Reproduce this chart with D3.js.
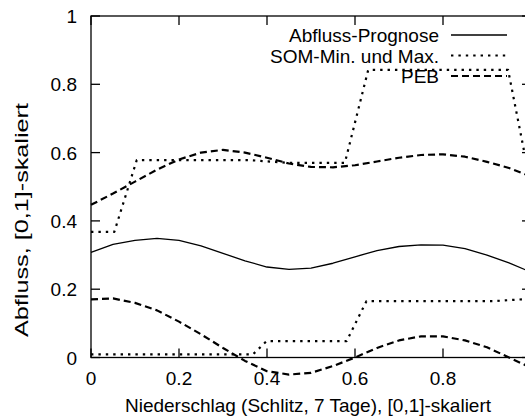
<!DOCTYPE html>
<html>
<head>
<meta charset="utf-8">
<script src="https://cdn.jsdelivr.net/npm/d3@7"></script>
<style>
  html, body { margin: 0; padding: 0; background: #fff; }
  svg { display: block; }
  text { font-family: "Liberation Sans", Arial, Helvetica, sans-serif; fill: #000; }
</style>
</head>
<body>
<svg id="chart" width="525" height="419"></svg>
<script>
// Sample positions along the precipitation axis (shared by forecast and PEB bands)
const xGrid = [0, 0.05, 0.1, 0.15, 0.2, 0.25, 0.3, 0.35, 0.4, 0.45, 0.5,
               0.55, 0.6, 0.65, 0.7, 0.75, 0.8, 0.85, 0.9, 0.95, 1.0];

// Discharge forecast
const prognose = [0.308, 0.331, 0.343, 0.349, 0.343, 0.327, 0.305, 0.283, 0.265, 0.258, 0.262,
                  0.276, 0.295, 0.313, 0.325, 0.330, 0.329, 0.319, 0.300, 0.277, 0.250];

// PEB upper and lower bound
const pebUpper = [0.447, 0.480, 0.515, 0.550, 0.580, 0.600, 0.608, 0.600, 0.585, 0.568, 0.558,
                  0.557, 0.563, 0.574, 0.585, 0.593, 0.595, 0.588, 0.573, 0.555, 0.530];
const pebLower = [0.170, 0.173, 0.160, 0.138, 0.105, 0.068, 0.028, -0.010, -0.040, -0.050, -0.045,
                  -0.025, 0.000, 0.028, 0.050, 0.062, 0.062, 0.050, 0.030, 0.000, -0.030];

// SOM maximum (step-like)
const somMaxX = [0, 0.053, 0.104, 0.36, 0.45, 0.577, 0.630, 0.948, 0.985, 1.0];
const somMaxY = [0.368, 0.368, 0.578, 0.578, 0.570, 0.570, 0.842, 0.842, 0.600, 0.580];

// SOM minimum (step-like)
const somMinX = [0, 0.368, 0.399, 0.581, 0.626, 0.914, 1.0];
const somMinY = [0.009, 0.009, 0.048, 0.048, 0.165, 0.165, 0.172];

const xTicks = [0, 0.2, 0.4, 0.6, 0.8, 1];
const yTicks = [0, 0.2, 0.4, 0.6, 0.8, 1];

const legendLabels = ["Abfluss-Prognose", "SOM-Min. und Max.", "PEB"];

const W = 525, H = 419;
const svg = d3.select("#chart");
const fontSize = 19;

const plot = { left: 91, right: 531, top: 16, bottom: 357.5 };
const x = d3.scaleLinear().domain([0, 1]).range([plot.left, plot.right]);
const y = d3.scaleLinear().domain([0, 1]).range([plot.bottom, plot.top]);

const styles = {
  solid:  { width: 1.3, dash: null },
  dotted: { width: 2.2, dash: "2.4,5" },
  dashed: { width: 2.2, dash: "7,4" }
};

// Border box (the right edge runs past the canvas)
svg.append("rect")
  .attr("x", plot.left).attr("y", plot.top)
  .attr("width", plot.right - plot.left).attr("height", plot.bottom - plot.top)
  .attr("fill", "none").attr("stroke", "#000").attr("stroke-width", 1.3);

// Inward ticks on all four sides
const tickLen = 9;
const axisLayer = svg.append("g");
xTicks.forEach(t => {
  axisLayer.append("line").attr("x1", x(t)).attr("x2", x(t))
    .attr("y1", plot.bottom).attr("y2", plot.bottom - tickLen).attr("stroke", "#000").attr("stroke-width", 1.3);
  axisLayer.append("line").attr("x1", x(t)).attr("x2", x(t))
    .attr("y1", plot.top).attr("y2", plot.top + tickLen).attr("stroke", "#000").attr("stroke-width", 1.3);
  // labels only where they fit inside the canvas
  if (x(t) < W - 8) {
    axisLayer.append("text").attr("x", x(t)).attr("y", plot.bottom + 27)
      .attr("text-anchor", "middle").attr("font-size", fontSize).text(d3.format("~g")(t));
  }
});
yTicks.forEach(t => {
  axisLayer.append("line").attr("x1", plot.left).attr("x2", plot.left + tickLen)
    .attr("y1", y(t)).attr("y2", y(t)).attr("stroke", "#000").attr("stroke-width", 1.3);
  axisLayer.append("line").attr("x1", plot.right).attr("x2", plot.right - tickLen)
    .attr("y1", y(t)).attr("y2", y(t)).attr("stroke", "#000").attr("stroke-width", 1.3);
  axisLayer.append("text").attr("x", plot.left - 14).attr("y", y(t) + 7)
    .attr("text-anchor", "end").attr("font-size", fontSize).text(d3.format("~g")(t));
});

// Axis titles
svg.append("text").attr("x", 308).attr("y", 412)
  .attr("text-anchor", "middle").attr("font-size", fontSize)
  .text("Niederschlag (Schlitz, 7 Tage), [0,1]-skaliert");
svg.append("text").attr("transform", "translate(28,220) rotate(-90)")
  .attr("text-anchor", "middle").attr("font-size", fontSize)
  .attr("textLength", 234).attr("lengthAdjust", "spacingAndGlyphs")
  .text("Abfluss, [0,1]-skaliert");

// Series
const line = d3.line().x(d => x(d[0])).y(d => y(d[1]));
function draw(xs, ys, st) {
  const p = svg.append("path")
    .attr("d", line(xs.map((v, i) => [v, ys[i]])))
    .attr("fill", "none").attr("stroke", "#000")
    .attr("stroke-width", st.width).attr("stroke-linejoin", "round");
  if (st.dash) p.attr("stroke-dasharray", st.dash);
}
draw(xGrid, prognose, styles.solid);
draw(somMaxX, somMaxY, styles.dotted);
draw(somMinX, somMinY, styles.dotted);
draw(xGrid, pebUpper, styles.dashed);
draw(xGrid, pebLower, styles.dashed);

// Legend
const legendStyles = [styles.solid, styles.dotted, styles.dashed];
legendLabels.forEach((lab, i) => {
  const cy = 35 + i * 20.5;
  svg.append("text").attr("x", 439).attr("y", cy + 7)
    .attr("text-anchor", "end").attr("font-size", fontSize).text(lab);
  const l = svg.append("line").attr("x1", 451).attr("x2", 507).attr("y1", cy).attr("y2", cy)
    .attr("stroke", "#000").attr("stroke-width", legendStyles[i].width);
  if (legendStyles[i].dash) l.attr("stroke-dasharray", legendStyles[i].dash);
});
</script>
</body>
</html>
